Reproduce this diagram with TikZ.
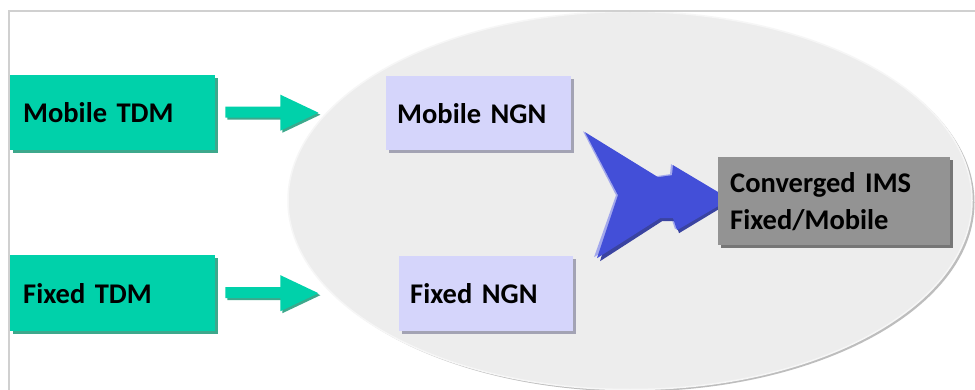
\documentclass[tikz,border=0pt]{standalone}
\usepackage{fontspec}
\setmainfont{Carlito}
\usetikzlibrary{shadows}
\definecolor{tdmc}{HTML}{00D1AA}
\definecolor{tdmshadow}{HTML}{3DA88C}
\definecolor{ngnc}{HTML}{D5D5FB}
\definecolor{ngnshadow}{HTML}{A3A3B4}
\definecolor{imsc}{HTML}{939393}
\definecolor{imsshadow}{HTML}{767676}
\definecolor{bluec}{HTML}{434FD8}
\definecolor{bluelight}{HTML}{A3A8EC}
\definecolor{blueshadow}{HTML}{3A43A0}
\definecolor{ellfill}{HTML}{EDEDED}
\definecolor{elledge}{HTML}{BDBDBD}
\definecolor{elllight}{HTML}{F6F6F6}
\definecolor{framec}{HTML}{D0D0D0}
\pgfdeclarelayer{bg}
\pgfdeclarelayer{mid}
\pgfsetlayers{bg,mid,main}
\begin{document}
\begin{tikzpicture}[x=1pt,y=-1pt,
  box/.style={rectangle, anchor=north west, inner xsep=12pt, inner ysep=0pt,
    align=left, font=\bfseries\fontsize{28.5}{37}\selectfont, text=black},
  tdmbox/.style={box, fill=tdmc, inner xsep=13pt,
    general shadow={fill=tdmshadow, shadow xshift=2.5pt, shadow yshift=-2.5pt}},
  ngnbox/.style={box, fill=ngnc, inner xsep=11pt,
    general shadow={fill=ngnshadow, shadow xshift=2.5pt, shadow yshift=-2.5pt}},
  imsbox/.style={box, fill=imsc,
    general shadow={fill=imsshadow, shadow xshift=2.5pt, shadow yshift=-2.5pt}},
  greenarrow/.style={fill=tdmc},
  greenshadow/.style={fill=tdmshadow}]
\useasboundingbox (0,0) rectangle (975,390);
\begin{pgfonlayer}{bg}
  \fill[white] (0,0) rectangle (975,390);
  \fill[elledge] (632.5,202.5) ellipse [x radius=342, y radius=189];
  \draw[elllight, line width=1.5pt, fill=ellfill] (630,200.5) ellipse [x radius=342, y radius=189];
  \draw[framec, line width=1.5pt] (9,390) -- (9,11) -- (975,11);
\end{pgfonlayer}

\node[tdmbox, minimum height=75pt, text width=179pt] (mtdm) at (10,75) {Mobile TDM};
\node[tdmbox, minimum height=76pt, text width=179pt] (ftdm) at (10,255) {Fixed TDM};
\node[ngnbox, minimum height=74pt, text width=163pt] (mngn) at (386,76) {Mobile NGN};
\node[ngnbox, minimum height=75pt, text width=152pt] (fngn) at (399,256) {Fixed NGN};
\node[imsbox, minimum height=88pt, text width=208pt] (conv) at (718,157) {Converged IMS\\Fixed/Mobile};

% green block arrows
\foreach \src in {mtdm,ftdm}{
  \begin{scope}[shift={(\src.east)}]
    \fill[greenshadow] (12,-4) -- (67,-4) -- (67,-16) -- (105,2) -- (67,20) -- (67,7) -- (12,7) -- cycle;
    \fill[greenarrow] (10,-6) -- (65,-6) -- (65,-18) -- (103,0) -- (65,18) -- (65,5) -- (10,5) -- cycle;
  \end{scope}
}

% blue notched arrow
\begin{pgfonlayer}{mid}
  \begin{scope}[shift={(conv.west)}]
    \fill[bluelight] (-135,-70) -- (-62,-25) -- (-48,-27) -- (-47,-37) -- (10,-3)
      -- (-43,28) -- (-47,16) -- (-60,16) -- (-124,56) -- (-102,-6) -- cycle;
    \fill[blueshadow] (-131,-67) -- (-58,-22) -- (-44,-24) -- (-43,-34) -- (14,0)
      -- (-39,32) -- (-43,20) -- (-56,20) -- (-118,60) -- (-98,-4) -- cycle;
    \fill[bluec] (-133,-69) -- (-60,-24) -- (-46,-26) -- (-45,-36) -- (12,-2)
      -- (-41,29) -- (-45,17) -- (-58,17) -- (-121,57) -- (-100,-6) -- cycle;
  \end{scope}
\end{pgfonlayer}
\end{tikzpicture}
\end{document}
